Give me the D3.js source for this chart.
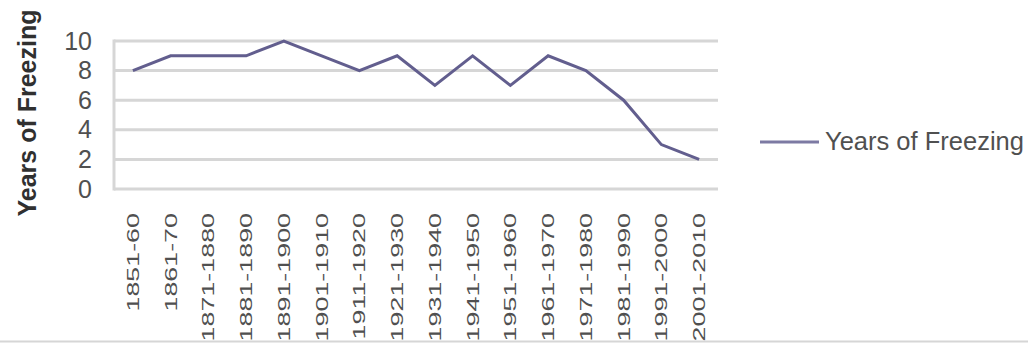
<!DOCTYPE html>
<html>
<head>
<meta charset="utf-8">
<script src="https://cdn.jsdelivr.net/npm/d3@7"></script>
<style>
  body { margin: 0; background: #fff; }
  svg { display: block; font-family: "Liberation Sans", Arial, sans-serif; }
  .grid line { stroke: #d6d6d6; stroke-width: 3; }
  .line { fill: none; stroke: #625e8e; stroke-width: 3; }
</style>
</head>
<body>
<div class="svg_container"></div>
<script>
// chart data
var decades = ["1851-60", "1861-70", "1871-1880", "1881-1890", "1891-1900", "1901-1910",
  "1911-1920", "1921-1930", "1931-1940", "1941-1950", "1951-1960", "1961-1970",
  "1971-1980", "1981-1990", "1991-2000", "2001-2010"];
var freezing = [8, 9, 9, 9, 10, 9, 8, 9, 7, 9, 7, 9, 8, 6, 3, 2];
var yTicks = [0, 2, 4, 6, 8, 10];
var seriesName = "Years of Freezing";

var width = 1028, height = 343;
var plot = {left: 114, right: 718, top: 41, bottom: 189};

var svg = d3.select(".svg_container").append("svg")
    .attr("width", width)
    .attr("height", height);

var xScale = d3.scaleBand()
  .domain(decades)
  .range([plot.left, plot.right]);

var yScale = d3.scaleLinear()
  .domain([0, 10])
  .range([plot.bottom, plot.top]);

// horizontal gridlines
svg.append("g")
  .attr("class", "grid")
  .selectAll("line")
  .data(yTicks)
  .enter()
  .append("line")
    .attr("x1", plot.left)
    .attr("x2", plot.right)
    .attr("y1", function(d) { return yScale(d); })
    .attr("y2", function(d) { return yScale(d); });

// left axis border
svg.append("line")
  .attr("x1", plot.left).attr("x2", plot.left)
  .attr("y1", plot.top - 1.5).attr("y2", plot.bottom + 1.5)
  .attr("stroke", "#d6d6d6")
  .attr("stroke-width", 3);

// y tick labels
var yAxis = svg.append("g")
  .attr("transform", "translate(" + (plot.left - 22) + ",0)")
  .call(d3.axisLeft(yScale).tickValues(yTicks).tickSize(0).tickPadding(0));
yAxis.select(".domain").remove();
yAxis.selectAll("text")
  .attr("font-size", 25)
  .attr("font-family", "Liberation Sans, Arial, sans-serif")
  .attr("fill", "#505050");

// x tick labels, rotated
var xAxis = svg.append("g")
  .attr("transform", "translate(0," + (plot.bottom + 24) + ")")
  .call(d3.axisBottom(xScale).tickSize(0).tickPadding(0));
xAxis.select(".domain").remove();
xAxis.selectAll("text")
  .attr("font-size", 17)
  .attr("font-family", "Liberation Sans, Arial, sans-serif")
  .attr("fill", "#505050")
  .attr("text-anchor", "end")
  .attr("dy", "0.35em")
  .attr("transform", "rotate(-90) scale(1.58,1)");

// y axis title
svg.append("text")
  .attr("transform", "translate(27,113) rotate(-90)")
  .attr("text-anchor", "middle")
  .attr("dy", "0.35em")
  .attr("font-size", 25)
  .attr("font-weight", "bold")
  .attr("fill", "#303030")
  .text(seriesName);

// the line
var line = d3.line()
  .x(function(d, i) { return xScale(decades[i]) + xScale.bandwidth() / 2; })
  .y(function(d) { return yScale(d); });

svg.append("path")
  .datum(freezing)
  .attr("class", "line")
  .attr("d", line);

// legend
svg.append("line")
  .attr("x1", 760).attr("x2", 819)
  .attr("y1", 142).attr("y2", 142)
  .attr("stroke", "#7d7aa3")
  .attr("stroke-width", 3);

svg.append("text")
  .attr("x", 825)
  .attr("y", 141)
  .attr("dy", "0.35em")
  .attr("font-size", 25.5)
  .attr("fill", "#505050")
  .text(seriesName);

// bottom border line
svg.append("line")
  .attr("x1", 0).attr("x2", width)
  .attr("y1", 341.5).attr("y2", 341.5)
  .attr("stroke", "#d6d6d6")
  .attr("stroke-width", 2);
</script>
</body>
</html>
